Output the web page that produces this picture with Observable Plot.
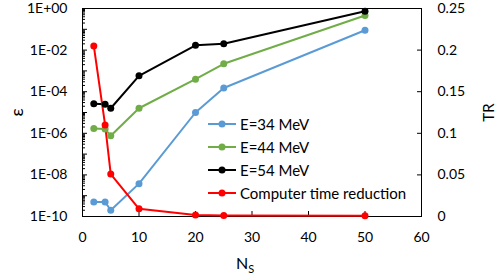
<!DOCTYPE html>
<html><head><meta charset="utf-8">
<script src="https://cdn.jsdelivr.net/npm/d3@7"></script>
<script src="https://cdn.jsdelivr.net/npm/@observablehq/plot@0.6"></script>
<style>
body{margin:0;background:#fff;font-family:Lato,"Open Sans",sans-serif}
#wrap{position:relative;width:498px;height:278px}
#legend{position:absolute;left:208px;top:112px;font-size:15px;color:#000}
.row{display:flex;align-items:center;height:23px;white-space:nowrap}
.row svg{margin-right:4px}
#xlab{position:absolute;left:236px;top:253px;font-size:16px}
#xlab sub{font-size:11px}
</style>
</head><body><div id="wrap"></div>
<script>
const ns = [2, 4, 5, 10, 20, 25, 50];
const e34 = [5e-10, 5e-10, 2e-10, 3.8e-9, 1e-5, 1.5e-4, 0.09];
const e44 = [1.7e-6, 1.6e-6, 7.6e-7, 1.6e-5, 4e-4, 2.2e-3, 0.46];
const e54 = [2.6e-5, 2.5e-5, 1.6e-5, 5.8e-4, 1.7e-2, 2e-2, 0.74];
const tr = [0.205, 0.110, 0.051, 0.0092, 0.0018, 0.0012, 0.0009];
const seriesNames = ["E=34 MeV", "E=44 MeV", "E=54 MeV", "Computer time reduction"];
const colors = ["#5B9BD5", "#70AD47", "#000000", "#FF0000"];
const xTicks = [0, 10, 20, 30, 40, 50, 60];
const yTicks = [1, 1e-2, 1e-4, 1e-6, 1e-8, 1e-10];
const yTickLabels = ["1E+00", "1E-02", "1E-04", "1E-06", "1E-08", "1E-10"];
const trTicks = [0, 0.05, 0.1, 0.15, 0.2, 0.25];
const trTickLabels = ["0", "0.05", "0.1", "0.15", "0.2", "0.25"];

const trMax = 0.25;
const trToY = t => Math.pow(10, -10 + (t / trMax) * 10);

const rows = [];
[e34, e44, e54].forEach((arr, s) => arr.forEach((v, i) => rows.push({s: seriesNames[s], x: ns[i], y: v})));
tr.forEach((v, i) => rows.push({s: seriesNames[3], x: ns[i], y: trToY(v)}));

const decadeTicks = d3.range(-10, 1).map(e => Math.pow(10, e));
const minorTicks = [];
for (let e = -10; e < 0; e++) for (let k = 2; k <= 9; k++) minorTicks.push(k * Math.pow(10, e));

const yLabelMap = new Map(yTicks.map((t, i) => [t, yTickLabels[i]]));
const trKeys = trTicks.map(trToY);

const chart = Plot.plot({
  width: 498, height: 278,
  marginLeft: 82, marginRight: 77, marginTop: 8, marginBottom: 62,
  style: {fontFamily: "Lato, 'Open Sans', sans-serif", fontSize: "14px", color: "#000", background: "#fff"},
  x: {domain: [0, 60]},
  y: {type: "log", domain: [1e-10, 1]},
  color: {domain: seriesNames, range: colors},
  marks: [
    Plot.frame({stroke: "#000", strokeWidth: 1}),
    Plot.axisX({ticks: xTicks, tickSize: -5, tickFormat: () => "", label: null}),
    Plot.axisX({ticks: xTicks, tickSize: 0, tickPadding: 16, tickFormat: d => String(d), label: null, fontSize: 14}),
    Plot.axisY({anchor: "left", ticks: minorTicks, tickSize: -3, tickFormat: () => "", label: null}),
    Plot.axisY({anchor: "left", ticks: decadeTicks, tickSize: -5, tickFormat: () => "", label: null}),
    Plot.axisY({anchor: "left", ticks: yTicks, tickSize: 0, tickPadding: 15, tickFormat: d => yLabelMap.get(d), fontSize: 14, label: null}),
    Plot.axisY({anchor: "left", ticks: [], label: "ε", labelAnchor: "center", labelArrow: "none", labelOffset: 72, fontSize: 18}),
    Plot.axisY({anchor: "right", ticks: trKeys, tickSize: -5, tickFormat: () => "", label: null}),
    Plot.axisY({anchor: "right", ticks: trKeys, tickSize: 0, tickPadding: 16,
      tickFormat: d => trTickLabels[trKeys.findIndex(k => Math.abs(Math.log10(k) - Math.log10(d)) < 1e-9)], fontSize: 14, label: null}),
    Plot.axisY({anchor: "right", ticks: [], label: "TR", labelAnchor: "center", labelArrow: "none", labelOffset: 72, fontSize: 15}),
    Plot.line(rows, {x: "x", y: "y", stroke: "s", z: "s", strokeWidth: 2}),
    Plot.dot(rows, {x: "x", y: "y", fill: "s", r: 3.5})
  ]
});
const wrap = document.getElementById("wrap");
wrap.appendChild(chart);

const legend = document.createElement("div");
legend.id = "legend";
seriesNames.forEach((n, i) => {
  const r = document.createElement("div");
  r.className = "row";
  r.innerHTML = `<svg width="28" height="10"><line x1="0" x2="28" y1="5" y2="5" stroke="${colors[i]}" stroke-width="2"/><circle cx="14" cy="5" r="3.5" fill="${colors[i]}"/></svg><span>${n}</span>`;
  legend.appendChild(r);
});
wrap.appendChild(legend);

const xl = document.createElement("div");
xl.id = "xlab";
xl.innerHTML = "N<sub>S</sub>";
wrap.appendChild(xl);
</script>
</body></html>
